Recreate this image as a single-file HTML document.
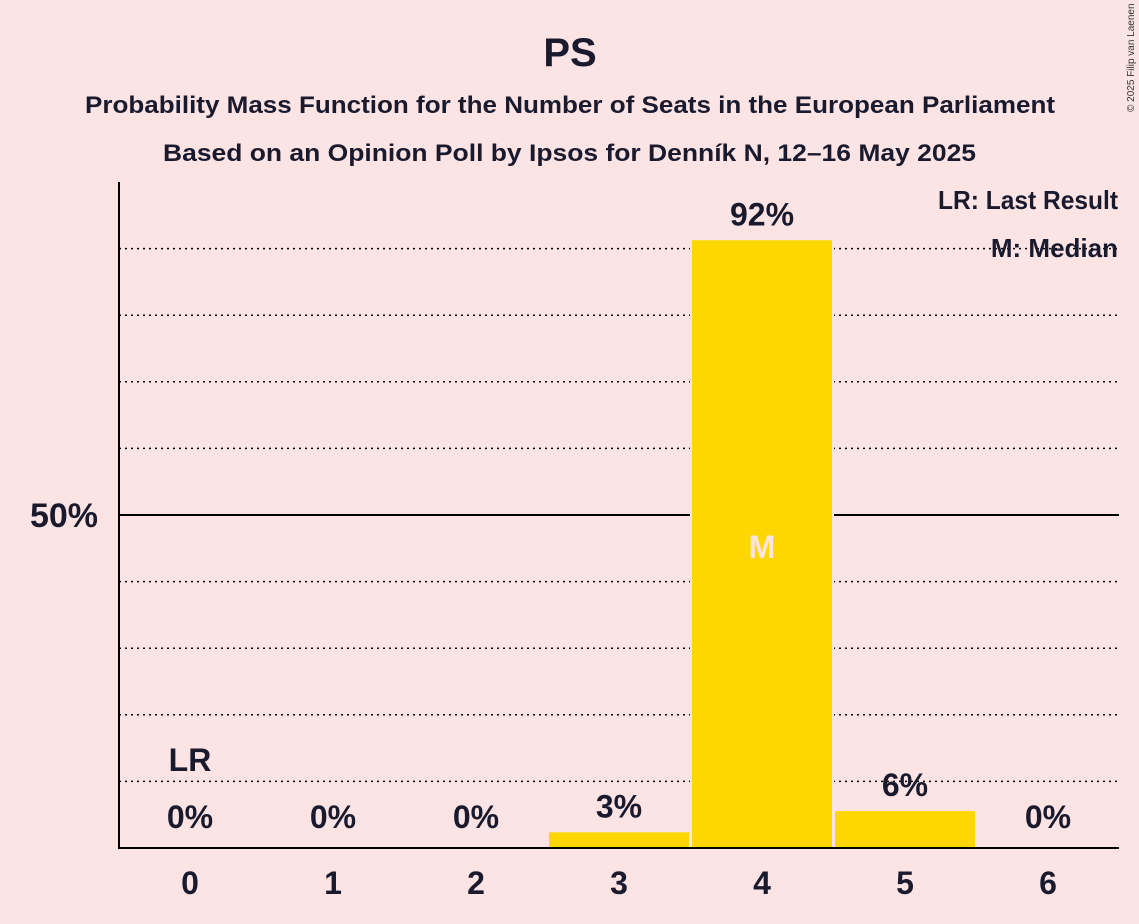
<!DOCTYPE html>
<html><head><meta charset="utf-8"><style>
body{margin:0;background:#fde4e4;}
svg{display:block;font-family:"Liberation Sans",sans-serif;}
</style></head><body>
<svg id="chart" width="1139" height="924">
<rect width="1139" height="924" fill="#fde4e4"/>
<text x="570" y="66" text-anchor="middle" font-size="40" font-weight="bold" fill="#1a1a2e">PS</text>
<text x="85" y="113" textLength="970" lengthAdjust="spacingAndGlyphs" font-size="24" font-weight="bold" fill="#1a1a2e">Probability Mass Function for the Number of Seats in the European Parliament</text>
<text x="163" y="161" textLength="813" lengthAdjust="spacingAndGlyphs" font-size="24" font-weight="bold" fill="#1a1a2e">Based on an Opinion Poll by Ipsos for Denník N, 12–16 May 2025</text>
<text x="1134" y="112" font-size="10" fill="#333" transform="rotate(-90 1134 112)">© 2025 Filip van Laenen</text>
<g id="grid"></g><g id="bars"></g><g id="labels"></g>
<line x1="119" y1="182" x2="119" y2="848" stroke="#000" stroke-width="2"/>
<line x1="118" y1="848" x2="1119" y2="848" stroke="#000" stroke-width="2"/>
<text x="98" y="527" text-anchor="end" font-size="34" font-weight="bold" fill="#1a1a2e">50%</text>
<text x="1118" y="209" textLength="180" lengthAdjust="spacingAndGlyphs" text-anchor="end" font-size="26" font-weight="bold" fill="#1a1a2e">LR: Last Result</text>
<text x="1118" y="257" text-anchor="end" font-size="26" font-weight="bold" fill="#1a1a2e">M: Median</text>
</svg>
<script>
const seats=[0,1,2,3,4,5,6];
const probs=[0,0,0,2.5,91.4,5.7,0];
const valueLabels=["0%","0%","0%","3%","92%","6%","0%"];
const gridTicks=[10,20,30,40,60,70,80,90];
const medianSeat=4, lastResultSeat=0;
const ns="http://www.w3.org/2000/svg";
const x=s=>190+s*143, y=p=>848-p*6.66;
function mk(t,a,parent,txt){const e=document.createElementNS(ns,t);for(const k in a)e.setAttribute(k,a[k]);if(txt!==undefined)e.textContent=txt;document.getElementById(parent).appendChild(e);return e;}
gridTicks.forEach(g=>{const l=mk('line',{x1:119,x2:1119,y1:y(g),y2:y(g),stroke:'#000','stroke-width':1.5,'stroke-dasharray':'2,4'},'grid');

});
const ml=mk('line',{x1:119,x2:1119,y1:y(50),y2:y(50),stroke:'#000','stroke-width':2},'grid');


seats.forEach((s,i)=>{
 const p=probs[i];
 if(p>0){const r=mk('rect',{x:x(s)-71,y:y(p),width:142,height:848-y(p),fill:'#ffd700',stroke:'#fde4e4','stroke-width':2},'bars');
 
 }
 const t=mk('text',{x:x(s),y:Math.min(y(p),848)-14,'text-anchor':'middle','font-size':32,'font-weight':'bold',fill:'#1a1a2e'},'labels',valueLabels[i]);
 if(p<=0)t.setAttribute('y',828);
 
 
 const xt=mk('text',{x:x(s),y:894,'text-anchor':'middle','font-size':32,'font-weight':'bold',fill:'#1a1a2e'},'labels',String(s));
 
 
 if(s===medianSeat){const m=mk('text',{x:x(s),y:558,'text-anchor':'middle','font-size':32,'font-weight':'bold',fill:'#fde4e4'},'labels','M');
 
 }
 if(s===lastResultSeat){const lr=mk('text',{x:x(s),y:771,'text-anchor':'middle','font-size':32,'font-weight':'bold',fill:'#1a1a2e'},'labels','LR');
 
 }
});
</script>
</body></html>
